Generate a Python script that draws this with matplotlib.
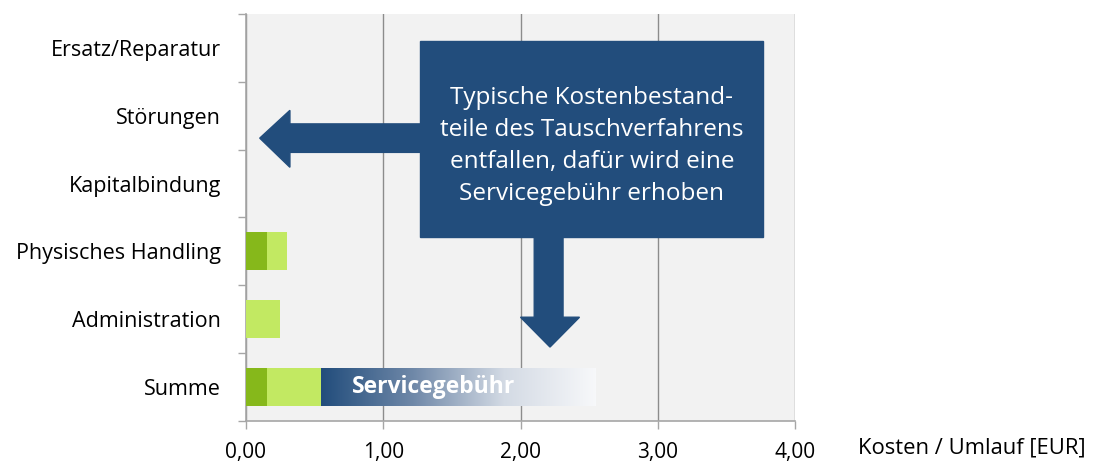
import numpy as np
import matplotlib.pyplot as plt
from matplotlib.patches import Polygon, Rectangle
from matplotlib.colors import LinearSegmentedColormap

plt.rcParams['font.family'] = ['Open Sans', 'DejaVu Sans']

categories = ['Summe', 'Administration', 'Physisches Handling',
              'Kapitalbindung', 'Störungen', 'Ersatz/Reparatur']
dark_vals = [0.15, 0.0, 0.15, 0.0, 0.0, 0.0]
light_vals = [0.40, 0.25, 0.15, 0.0, 0.0, 0.0]
service_fee = 2.00
xticks = [0, 1, 2, 3, 4]
xticklabels = ['0,00', '1,00', '2,00', '3,00', '4,00']
note = 'Typische Kostenbestand-\nteile des Tauschverfahrens\nentfallen, dafür wird eine\nServicegebühr erhoben'

navy = '#224d7c'
dark_green = '#86b81b'
light_green = '#c2e962'
grey = '#a6a6a6'

fig = plt.figure(figsize=(10.97, 4.65), dpi=100)
ax = fig.add_axes([246/1097, 1 - 421/465, 549/1097, 407/465])
ax.set_facecolor('#f2f2f2')

y = np.arange(len(categories))
h = 0.56
ax.barh(y, dark_vals, height=h, color=dark_green, zorder=3)
ax.barh(y, light_vals, left=dark_vals, height=h, color=light_green, zorder=3)

# gradient service fee bar on top of "Summe"
start = dark_vals[0] + light_vals[0]
cmap = LinearSegmentedColormap.from_list('fee', [navy, '#6f88a8', '#d3dae4', '#f7f8fa'])
grad = np.linspace(0, 1, 256).reshape(1, -1)
ax.imshow(grad, cmap=cmap, aspect='auto', zorder=3,
          extent=[start, start + service_fee, y[0] - h/2, y[0] + h/2])
ax.text(start + 0.22, y[0], 'Servicegebühr', color='white', fontsize=16.5,
        fontweight='bold', va='center', ha='left', zorder=4)

ax.set_xlim(0, 4)
ax.set_ylim(-0.5, len(categories) - 0.5)

ax.set_xticks(xticks)
ax.set_xticklabels(xticklabels, fontsize=15)
ax.set_yticks(y)
ax.set_yticklabels(categories, fontsize=15.5)
ax.set_yticks(np.arange(-0.5, len(categories)), minor=True)
ax.tick_params(axis='y', which='major', length=0, pad=18)
ax.tick_params(axis='y', which='minor', length=6, color=grey, width=1)
ax.tick_params(axis='x', length=6, color=grey, width=1, pad=9)

ax.grid(axis='x', color='#8c8c8c', linewidth=1, zorder=1)
ax.set_axisbelow(True)
for s in ['top', 'right']:
    ax.spines[s].set_visible(False)
for s in ['left', 'bottom']:
    ax.spines[s].set_color(grey)
    ax.spines[s].set_linewidth(1.2)

fig.text(858/1097, 1 - 448/465, 'Kosten / Umlauf [EUR]', fontsize=15.8,
         va='center', ha='left')

# callout box with arrows
box = Rectangle((1.268, 2.21), 2.5, 2.89, color=navy, zorder=5)
ax.add_patch(box)
left_arrow = Polygon([(1.30, 3.88), (0.32, 3.88), (0.32, 4.08), (0.10, 3.67),
                      (0.32, 3.24), (0.32, 3.46), (1.30, 3.46)],
                     closed=True, color=navy, zorder=5)
down_arrow = Polygon([(2.10, 2.25), (2.10, 1.03), (2.00, 1.03), (2.215, 0.59),
                      (2.43, 1.03), (2.31, 1.03), (2.31, 2.25)],
                     closed=True, color=navy, zorder=5)
ax.add_patch(left_arrow)
ax.add_patch(down_arrow)
ax.text(2.52, 3.55, note, color='white', fontsize=17.5, ha='center',
        va='center', linespacing=1.45, zorder=6)

fig.savefig('out.png', dpi=100)
